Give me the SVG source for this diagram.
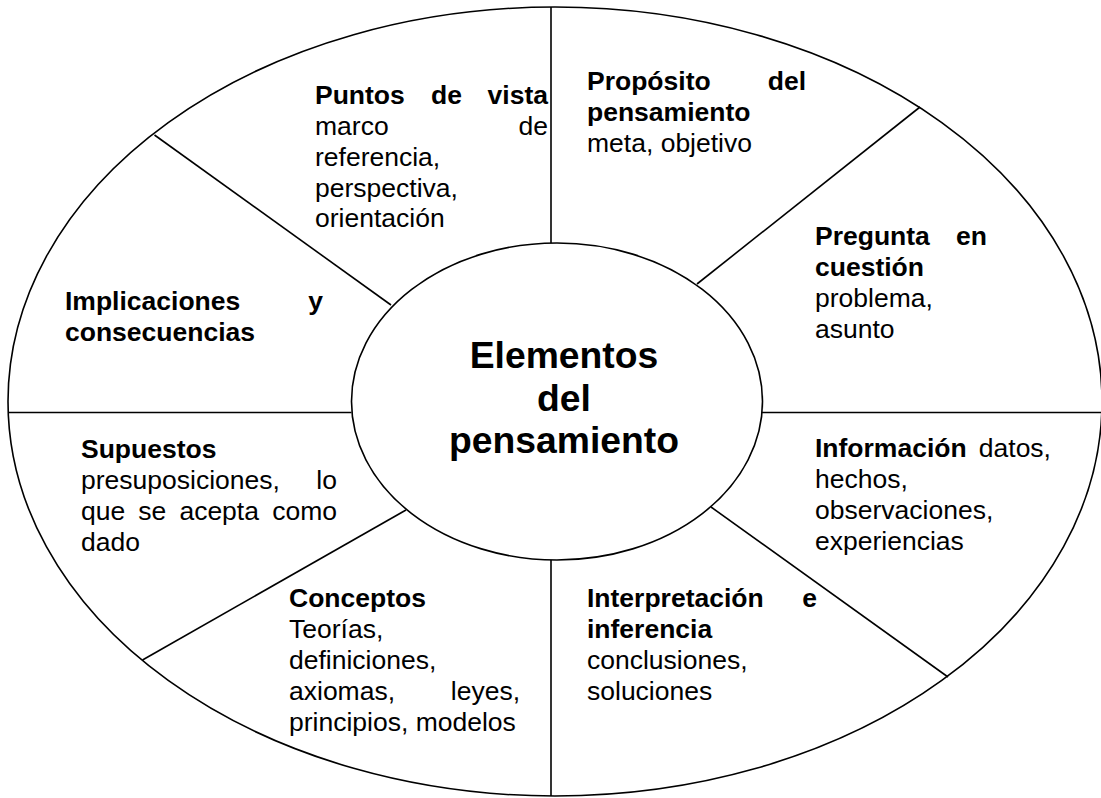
<svg xmlns="http://www.w3.org/2000/svg" width="1101" height="798" viewBox="0 0 1101 798">
<style>
.ln{stroke:#000;stroke-width:1.6;fill:none}
text{font-family:"Liberation Sans",Arial,sans-serif;font-size:26.5px;fill:#000}
.b{font-weight:bold}
.e{text-anchor:end}
.c{font-size:37.3px;font-weight:bold;text-anchor:middle}
</style>
<rect width="1101" height="798" fill="#fff"/>
<g id="outer"><ellipse class="ln" cx="555" cy="401.5" rx="547" ry="394.5"/></g>
<g id="connectors">
<line class="ln" x1="551" y1="7" x2="551" y2="243"/>
<line class="ln" x1="551" y1="560" x2="551" y2="796"/>
<line class="ln" x1="8" y1="412.5" x2="351.5" y2="412.5"/>
<line class="ln" x1="762" y1="412.5" x2="1101" y2="412.5"/>
<line class="ln" x1="154.5" y1="135" x2="391" y2="305"/>
<line class="ln" x1="920" y1="107" x2="697" y2="284"/>
<line class="ln" x1="142.5" y1="660" x2="406" y2="510"/>
<line class="ln" x1="948" y1="677" x2="711" y2="507"/>
</g>
<g id="center">
<ellipse class="ln" cx="557" cy="401.5" rx="205.5" ry="158.5" fill="#fff"/>
<text class="c" x="564" y="368">Elementos</text>
<text class="c" x="564" y="411">del</text>
<text class="c" x="564" y="453">pensamiento</text>
</g>
<g id="puntos-de-vista">
<text class="b" x="315" y="104">Puntos</text>
<text class="b" x="431" y="104">de</text>
<text class="b e" x="548" y="104">vista</text>
<text x="315" y="135">marco</text>
<text class="e" x="548" y="135">de</text>
<text x="315" y="166">referencia,</text>
<text x="315" y="197">perspectiva,</text>
<text x="315" y="227">orientación</text>
</g>
<g id="proposito">
<text class="b" x="587" y="90">Propósito</text>
<text class="b e" x="806" y="90">del</text>
<text class="b" x="587" y="121">pensamiento</text>
<text x="587" y="152">meta, objetivo</text>
</g>
<g id="pregunta">
<text class="b" x="815" y="245">Pregunta</text>
<text class="b e" x="987" y="245">en</text>
<text class="b" x="815" y="276">cuestión</text>
<text x="815" y="307">problema,</text>
<text x="815" y="338">asunto</text>
</g>
<g id="implicaciones">
<text class="b" x="65" y="310">Implicaciones</text>
<text class="b e" x="323" y="310">y</text>
<text class="b" x="65" y="341">consecuencias</text>
</g>
<g id="supuestos">
<text class="b" x="81" y="458">Supuestos</text>
<text x="81" y="489">presuposiciones,</text>
<text class="e" x="337" y="489">lo</text>
<text x="81" y="520">que</text>
<text x="138.3" y="520">se</text>
<text x="179.4" y="520">acepta</text>
<text class="e" x="337" y="520">como</text>
<text x="81" y="551">dado</text>
</g>
<g id="informacion">
<text x="815" y="457"><tspan class="b">Información</tspan></text>
<text class="e" x="1051" y="457">datos,</text>
<text x="815" y="488">hechos,</text>
<text x="815" y="519">observaciones,</text>
<text x="815" y="550">experiencias</text>
</g>
<g id="conceptos">
<text class="b" x="289" y="607">Conceptos</text>
<text x="289" y="638">Teorías,</text>
<text x="289" y="669">definiciones,</text>
<text x="289" y="700">axiomas,</text>
<text class="e" x="520" y="700">leyes,</text>
<text x="289" y="731">principios, modelos</text>
</g>
<g id="interpretacion">
<text class="b" x="587" y="607">Interpretación</text>
<text class="b e" x="817" y="607">e</text>
<text class="b" x="587" y="638">inferencia</text>
<text x="587" y="669">conclusiones,</text>
<text x="587" y="700">soluciones</text>
</g>
</svg>
